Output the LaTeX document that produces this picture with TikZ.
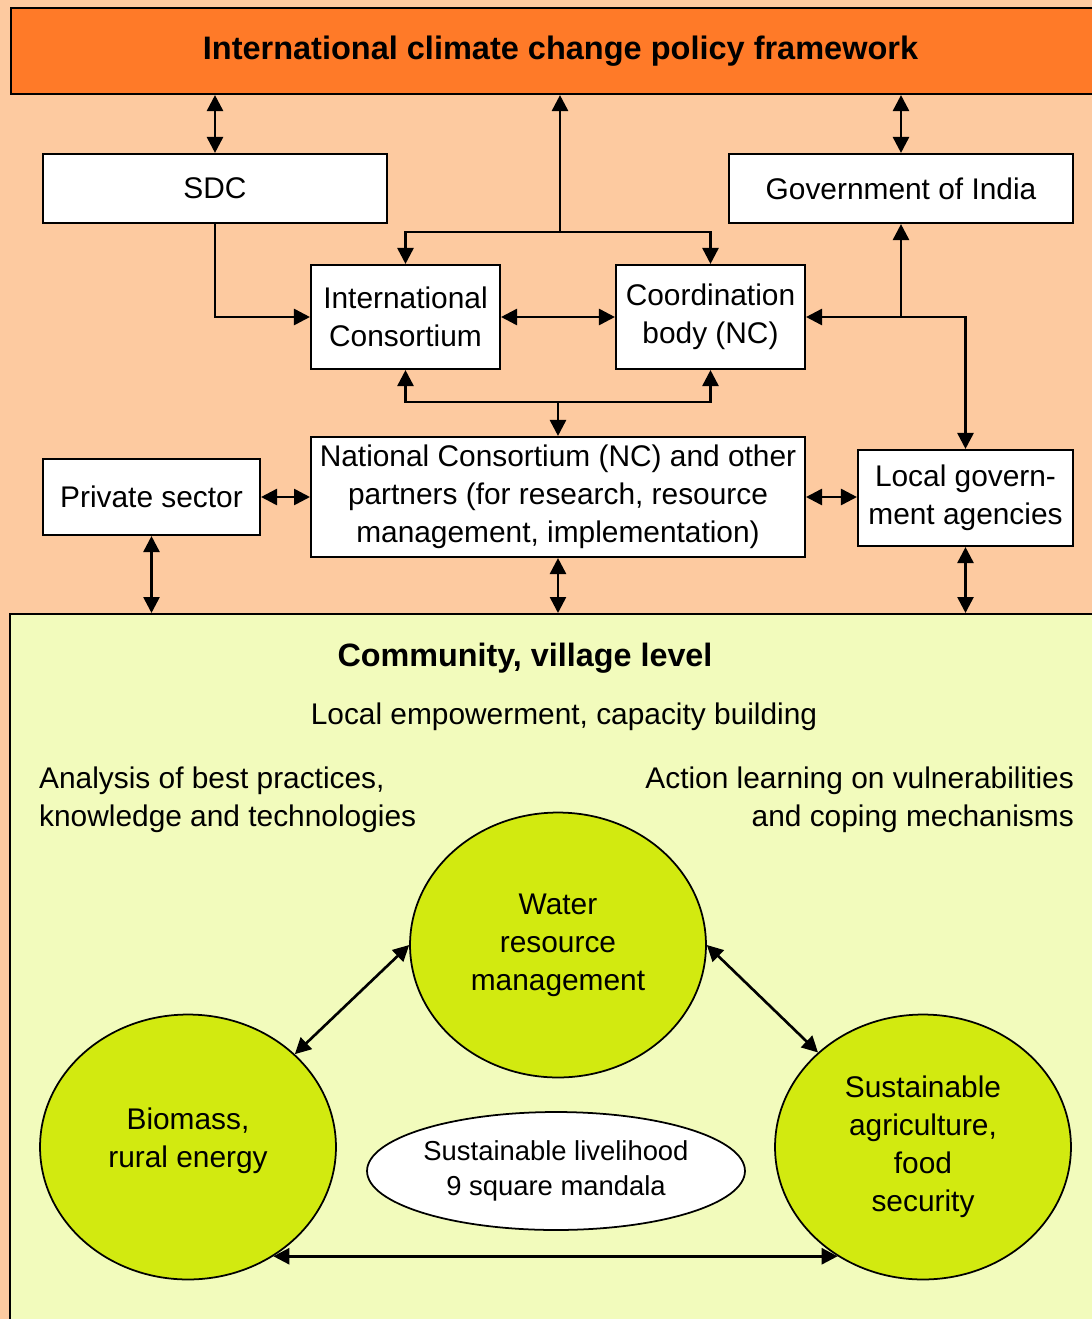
\documentclass[tikz,border=0pt]{standalone}
\usepackage{fontspec}
\setmainfont{Liberation Sans}
\usetikzlibrary{arrows.meta,shapes.geometric}
\definecolor{peach}{HTML}{FDCAA0}
\definecolor{headorange}{HTML}{FF7A28}
\definecolor{panelgreen}{HTML}{F2FBBC}
\definecolor{circlegreen}{HTML}{D2EA10}

\begin{document}
\begin{tikzpicture}[x=0.02cm,y=-0.02cm,
  every node/.style={font=\fontsize{17}{21.6}\selectfont},
  box/.style={draw,fill=white,line width=1.2pt,inner sep=0pt,align=center},
  blob/.style={ellipse,draw,fill=circlegreen,line width=1pt,inner sep=0pt,align=center,minimum width=5.92cm,minimum height=5.3cm},
  link/.style={line width=1.5pt,-{Triangle[length=0.32cm,width=0.32cm]}},
  dlink/.style={line width=1.5pt,{Triangle[length=0.32cm,width=0.32cm]}-{Triangle[length=0.32cm,width=0.32cm]}}]
\useasboundingbox (0,0) rectangle (1092,1319);
\fill[peach] (0,0) rectangle (1092,1319);

\node[draw,fill=headorange,line width=1.2pt,minimum width=21.98cm,minimum height=1.72cm,font=\bfseries\fontsize{18.5}{22}\selectfont] (top) at (560.5,51) {International climate change policy framework};

\node[box,minimum width=6.88cm,minimum height=1.38cm] (sdc) at (215,188.5) {SDC};
\node[box,minimum width=6.88cm,minimum height=1.38cm] (gov) at (901,188.5) {Government of India};
\node[box,minimum width=3.78cm,minimum height=2.08cm] (ic) at (405.5,317) {International\\Consortium};
\node[box,minimum width=3.78cm,minimum height=2.08cm] (cb) at (710.5,317) {Coordination\\body (NC)};
\node[box,minimum width=9.88cm,minimum height=2.4cm] (nc) at (558,497) {National Consortium (NC) and other\\partners (for research, resource\\management, implementation)};
\node[box,minimum width=4.34cm,minimum height=1.52cm] (private) at (151.5,497) {Private sector};
\node[box,minimum width=4.3cm,minimum height=1.92cm] (local) at (965.5,498) {Local govern-\\ment agencies};

\node[draw,fill=panelgreen,line width=1.4pt,anchor=north west,minimum width=22.02cm,minimum height=14.54cm] (panel) at (9,613) {};
\node[font=\bfseries\fontsize{18.4}{22}\selectfont] (level) at (525,658) {Community, village level};
\node (empower) at (564,717) {Local empowerment, capacity building};
\node[anchor=west,align=left] (analysis) at (33,800) {Analysis of best practices,\\knowledge and technologies};
\node[anchor=east,align=right] (action) at (1080,800) {Action learning on vulnerabilities\\and coping mechanisms};

\node[blob] (water) at (558,945) {Water\\resource\\management};
\node[blob] (biomass) at (188,1147) {Biomass,\\rural energy\\[-0.4cm]};
\node[blob] (agri) at (923,1147) {Sustainable\\agriculture,\\food\\security};
\node[draw,ellipse,fill=white,line width=1pt,inner sep=0pt,align=center,minimum width=7.56cm,minimum height=2.36cm,font=\fontsize{15.6}{19.9}\selectfont] (mandala) at (556,1171) {Sustainable livelihood\\9 square mandala};

\coordinate (split) at (560,232);
\draw[link] (split) -- (split |- top.south);
\draw[link] (split) -| (ic.north);
\draw[link] (split) -| (cb.north);
\draw[dlink] (sdc.north) -- (sdc.north |- top.south);
\draw[dlink] (gov.north) -- (gov.north |- top.south);
\draw[link] (sdc.south) |- (ic.west);
\draw[dlink] (ic.east) -- (cb.west);
\draw[dlink] (cb.east) -| (local.north);
\draw[link] (gov.south |- cb.east) -- (gov.south);
\coordinate (join) at (558,402);
\draw[link] (join) -| (ic.south);
\draw[link] (join) -| (cb.south);
\draw[link] (join) -- (nc.north);
\draw[dlink] (private.east) -- (private.east -| nc.west);
\draw[dlink] (nc.east) -- (nc.east -| local.west);
\draw[dlink] (private.south) -- (private.south |- panel.north);
\draw[dlink] (nc.south) -- (nc.south |- panel.north);
\draw[dlink] (local.south) -- (local.south |- panel.north);
\draw[dlink] (water.west) -- (biomass.41);
\draw[dlink] (water.east) -- (agri.138);
\draw[dlink] (biomass.-52) -- (agri.-128);
\end{tikzpicture}
\end{document}
